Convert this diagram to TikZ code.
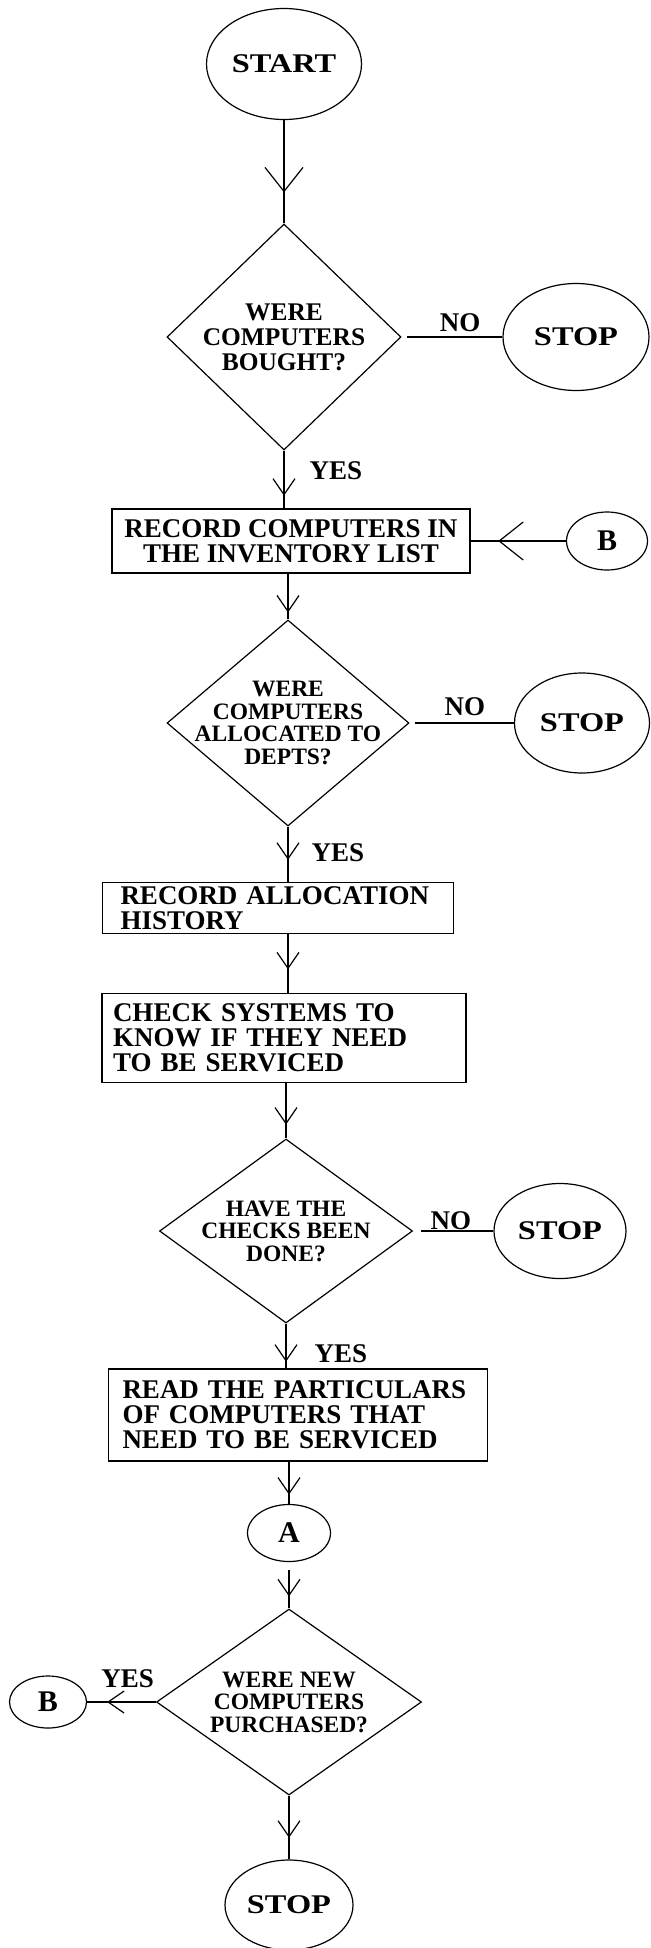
\documentclass[tikz,border=0pt]{standalone}
\usepackage{fontspec}
\setmainfont{Liberation Serif}
\newfontfamily\termfont{Liberation Serif}[FakeStretch=1.2]
\usetikzlibrary{shapes.geometric,arrows.meta,decorations.markings}

\begin{document}
\begin{tikzpicture}[x=0.5pt,y=-0.5pt,line width=0.6pt,
  term/.style={ellipse,draw,inner sep=0pt,font=\termfont\bfseries\fontsize{13.5}{14}\selectfont},
  conn/.style={ellipse,draw,inner sep=0pt,font=\bfseries\fontsize{15}{16}\selectfont},
  proc/.style={rectangle,draw,inner ysep=0pt,font=\bfseries\fontsize{13.5}{12.5}\selectfont},
  dec/.style={diamond,draw,inner sep=0pt},
  dtext/.style={align=center,inner sep=0pt,font=\bfseries\fontsize{11.75}{11.25}\selectfont},
  lbl/.style={inner sep=0pt,font=\bfseries\fontsize{13.5}{14}\selectfont},
  flow/.style={postaction={decorate},decoration={markings,mark=at position #1 with {\arrow{Straight Barb[length=8pt,width=11pt]}}}},
  flow/.default=0.7,
  bigflow/.style={postaction={decorate},decoration={markings,mark=at position #1 with {\arrow{Straight Barb[length=12pt,width=19pt]}}}},
  bigflow/.default=0.7]
\useasboundingbox (0,0) rectangle (651,1948);
\node[term,minimum width=77.5pt,minimum height=55.5pt] (start) at (284,64) {START};
\node[dec,minimum width=117pt,minimum height=113pt,label={[dtext,font=\bfseries\fontsize{12.7}{12.5}\selectfont]center:WERE\\COMPUTERS\\BOUGHT?}] (d1) at (284,337) {};
\node[term,minimum width=73pt,minimum height=53.5pt] (stopa) at (576,337) {STOP};
\node[proc,minimum width=179pt,minimum height=32pt,align=center] (r1) at (291,541) {RECORD COMPUTERS IN\\THE INVENTORY LIST};
\node[conn,minimum width=40.5pt,minimum height=29pt] (b1) at (607,541) {B};
\node[dec,minimum width=121pt,minimum height=103pt,label={[dtext]center:WERE\\COMPUTERS\\ALLOCATED TO\\DEPTS?}] (d2) at (288,723) {};
\node[term,minimum width=67.5pt,minimum height=50pt] (stopb) at (582,723) {STOP};
\node[proc,minimum width=175.5pt,minimum height=25.5pt,text width=157.5pt,inner xsep=9pt,align=left] (r2) at (278,908) {RECORD ALLOCATION\\HISTORY};
\node[proc,minimum width=182pt,minimum height=44.5pt,text width=171pt,inner xsep=5.5pt,align=left] (r3) at (284,1038) {CHECK SYSTEMS TO\\KNOW IF THEY NEED\\TO BE SERVICED};
\node[dec,minimum width=126.5pt,minimum height=92pt,label={[dtext]center:HAVE THE\\CHECKS BEEN\\DONE?}] (d3) at (286,1231) {};
\node[term,minimum width=66pt,minimum height=47.5pt] (stopc) at (560,1231) {STOP};
\node[proc,minimum width=189.5pt,minimum height=46pt,text width=175.5pt,inner xsep=7pt,align=left] (r4) at (298,1415) {READ THE PARTICULARS\\OF COMPUTERS THAT\\NEED TO BE SERVICED};
\node[conn,minimum width=41.5pt,minimum height=28.5pt] (ca) at (289,1533) {A};
\node[dec,minimum width=132.5pt,minimum height=93pt,label={[dtext]center:WERE NEW\\COMPUTERS\\PURCHASED?}] (d4) at (289,1702) {};
\node[conn,minimum width=38.5pt,minimum height=26pt] (b2) at (48,1702) {B};
\node[term,minimum width=64pt,minimum height=45pt] (stopd) at (289,1905) {STOP};
\draw[bigflow=0.7] (start) -- (d1);
\draw[flow=0.78] (d1) -- (d1 |- r1.north) node[lbl,right=12.5pt,pos=0.34] {YES};
\draw[shorten <=2.5pt] (d1) -- (stopa) node[lbl,above=2.5pt,pos=0.58] {NO};
\draw[bigflow=0.71] (b1) -- (r1);
\draw[flow=0.85] (d2 |- r1.south) -- (d2);
\draw[shorten <=2.5pt] (d2) -- (stopb) node[lbl,above=3.5pt,pos=0.53] {NO};
\draw[flow=0.6] (d2) -- (d2 |- r2.north) node[lbl,right=11.5pt,pos=0.48] {YES};
\draw[flow=0.6] (r2.south -| d2) -- (r3.north -| d2);
\draw[flow=0.75] (d3 |- r3.south) -- (d3);
\draw[shorten <=4pt] (d3) -- (stopc) node[lbl,above=0.5pt,pos=0.47] {NO};
\draw[flow=0.85] (d3) -- (d3 |- r4.north) node[lbl,right=14pt,pos=0.68] {YES};
\draw[flow=0.78] (ca |- r4.south) -- (ca);
\draw[flow=0.74,shorten <=4pt] (ca) -- (d4);
\draw[flow=0.71] (d4) -- (b2) node[lbl,above=7pt,pos=0.41] {YES};
\draw[flow=0.66] (d4) -- (stopd);
\end{tikzpicture}
\end{document}
